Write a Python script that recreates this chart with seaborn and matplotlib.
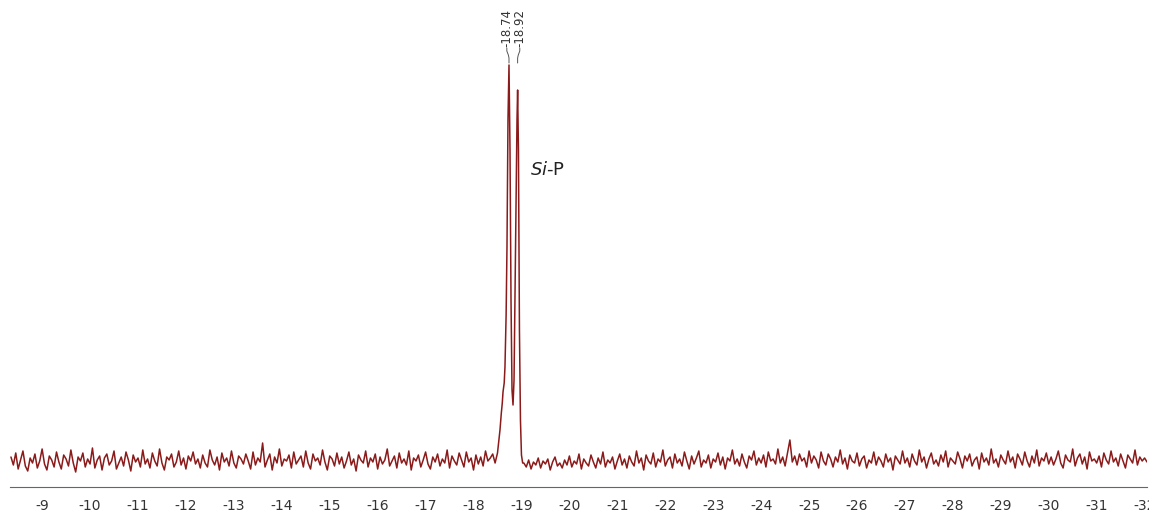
import numpy as np
import pandas as pd
import matplotlib
matplotlib.use("Agg")
import matplotlib.pyplot as plt
import seaborn as sns

# ---- data (chemical shift in ppm, intensity in arbitrary units) ----
left_start, left_stop = -8.35, -18.45
left_baseline = [
    30,22,34,18,27,36,21,16,29,24,33,19,26,38,23,17,31,27,20,35,
    25,18,32,28,21,37,24,15,30,26,34,20,28,23,39,19,27,31,17,29,
    33,22,26,36,18,24,30,21,35,27,16,32,25,29,20,37,23,28,19,34,
    26,21,38,24,17,30,27,33,20,25,36,22,29,18,31,26,35,23,28,19,
    32,24,20,37,27,22,30,17,34,25,29,21,36,24,19,31,28,23,33,26,
    18,35,22,29,25,44,20,27,33,17,30,24,38,21,28,26,32,19,35,23,
    27,31,20,36,24,18,33,26,29,22,37,25,17,31,28,21,34,23,30,19,
    26,35,22,28,16,32,27,24,36,20,29,25,33,18,30,23,27,38,21,26,
    31,19,34,24,28,22,36,17,29,26,32,20,27,35,23,18,30,25,33,21,
    28,24,37,19,31,26,22,34,27,20,35,25,29,17,32,23,30,21,36,26,
    29,33,24,
]

peak_ppm = [-18.50, -18.53, -18.552, -18.58, -18.60, -18.615, -18.64, -18.656,
            -18.68, -18.698, -18.719, -18.740, -18.761, -18.782, -18.803,
            -18.824, -18.845, -18.876, -18.907, -18.920, -18.937, -18.958,
            -18.979, -19.000, -19.025]
peak_int = [34, 47, 57, 74, 84, 95, 104, 120,
            172, 240, 368, 422, 337, 187, 97,
            82, 107, 237, 367, 397, 337, 157,
            67, 32, 24]

right_start, right_stop = -19.05, -32.05
right_baseline = [
    24,20,27,18,25,22,29,19,26,23,28,17,25,30,21,24,19,27,22,31,
    20,26,23,33,18,28,24,21,32,25,19,29,23,35,20,27,24,30,18,26,
    33,22,28,19,31,25,21,36,24,29,17,32,26,23,34,20,28,25,37,21,
    27,30,19,33,24,28,21,35,26,18,31,23,29,36,20,27,24,32,19,28,
    25,34,22,30,18,29,26,37,23,28,21,33,25,19,31,27,36,22,29,24,
    32,20,35,26,28,23,38,24,30,21,34,47,25,31,22,33,26,29,20,36,
    24,31,27,19,35,26,22,33,28,20,30,25,37,23,29,18,32,26,24,34,
    21,28,31,19,27,24,35,22,30,26,20,33,25,29,17,31,27,23,36,24,
    29,20,33,26,22,37,25,30,19,28,34,23,27,21,32,25,36,20,29,26,
    23,35,28,19,31,26,33,21,27,30,18,34,25,29,22,38,24,28,20,32,
    27,23,36,25,30,19,33,28,22,35,26,20,31,24,37,21,29,26,34,23,
    30,22,28,36,24,19,32,27,25,38,21,29,33,23,30,18,35,26,28,24,
    31,20,34,27,23,36,25,29,21,33,26,19,32,28,24,37,22,30,26,29,
    25,
]

peak_labels = ["-18.74", "-18.92"]
peak_label_ppm = [-18.74, -18.92]
peak_label_offset = [0.045, -0.045]
annotation_text = "Si-P"
tick_values = list(range(-9, -33, -1))
minor_tick_values = [-8.5] + [t - 0.5 for t in range(-9, -32, -1)]

# ---- assemble ----
left_ppm = np.linspace(left_start, left_stop, len(left_baseline))
right_ppm = np.linspace(right_start, right_stop, len(right_baseline))
df = pd.DataFrame({
    "ppm": np.concatenate([left_ppm, peak_ppm, right_ppm]),
    "intensity": np.concatenate([left_baseline, peak_int, right_baseline]),
})

sns.set_style("white")
plt.rcParams["axes.unicode_minus"] = False
plt.rcParams["font.family"] = ["DejaVu Sans"]

fig = plt.figure(figsize=(11.49, 5.13), dpi=100)
ax = fig.add_axes([10 / 1149, 26 / 513, 1137 / 1149, 487 / 513])

line_color = "#8b1a1a"
sns.lineplot(data=df, x="ppm", y="intensity", ax=ax, color=line_color,
             linewidth=1.1, estimator=None, sort=True)

for s in ["left", "top", "right"]:
    ax.spines[s].set_visible(False)
ax.spines["bottom"].set_color("#666666")
ax.spines["bottom"].set_linewidth(0.8)

ax.set_xticks(tick_values)
ax.set_xticklabels([str(t) for t in tick_values])
ax.set_xticks(minor_tick_values, minor=True)
ax.tick_params(axis="x", which="major", direction="out", length=5, width=0.8,
               color="#666666", labelsize=10, labelcolor="#333333", pad=4)
ax.tick_params(axis="x", which="minor", direction="out", length=3, width=0.8,
               color="#666666")
ax.set_yticks([])
ax.set_xlabel("")
ax.set_ylabel("")

# peak labels with connectors
for lab, p, off in zip(peak_labels, peak_label_ppm, peak_label_offset):
    lx = p + off
    ax.text(lx, 440, lab, rotation=90, ha="center", va="bottom",
            fontsize=8.5, color="#333333")
    ax.plot([lx, lx, p + off * 0.3, p, p], [439, 436, 432, 429, 424],
            color="#555555", lw=0.7)

ax.text(-19.18, 317, r"$\mathit{Si}$-P", fontsize=13, color="#222222",
        ha="left", va="center")

ax.set_xlim(-8.33, -32.05)
ax.set_ylim(0, 487)
ax.autoscale(False)

fig.savefig("out.png", dpi=100)
